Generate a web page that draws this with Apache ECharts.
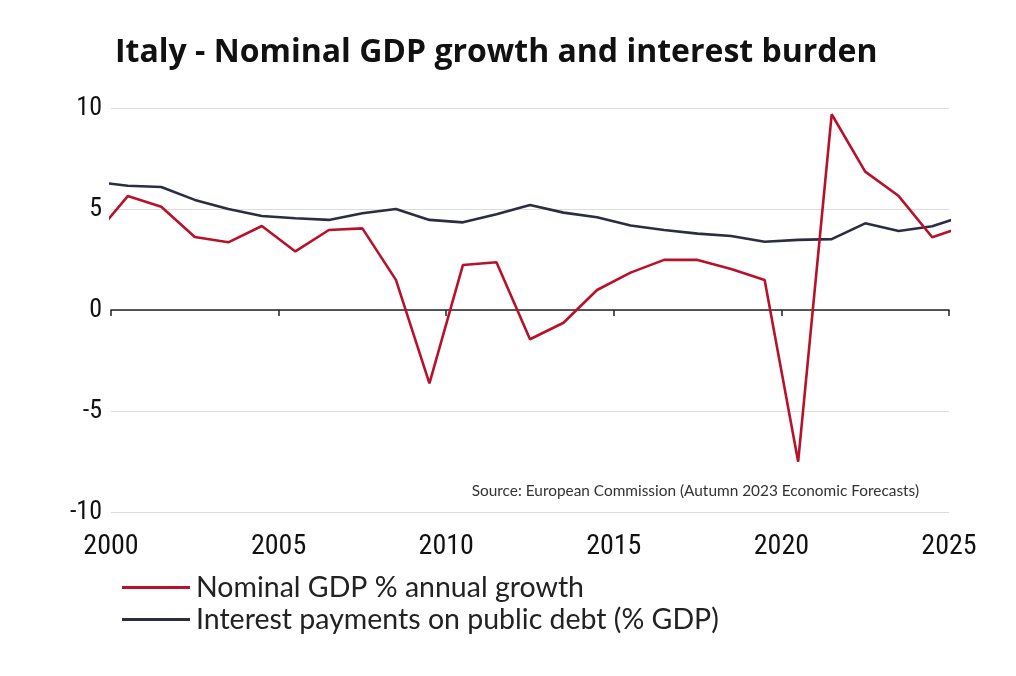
<!DOCTYPE html>
<html>
<head>
<meta charset="utf-8">
<script src="https://cdn.jsdelivr.net/npm/echarts@6/dist/echarts.min.js"></script>
<style>
html,body{margin:0;padding:0;background:#fff;}
#c{width:1016px;height:676px;}
</style>
</head>
<body>
<div id="c"></div>
<script>
// Annual values, plotted at mid-year (year + 0.5); axis shows 2000-2025
const years = [1999,2000,2001,2002,2003,2004,2005,2006,2007,2008,2009,2010,2011,2012,2013,2014,2015,2016,2017,2018,2019,2020,2021,2022,2023,2024,2025];
const gdpGrowth = [3.66,5.64,5.11,3.61,3.35,4.16,2.90,3.96,4.04,1.49,-3.63,2.23,2.36,-1.45,-0.63,0.99,1.85,2.48,2.48,2.03,1.49,-7.51,9.69,6.85,5.64,3.60,4.16];
const interest = [6.35,6.15,6.09,5.45,5.00,4.65,4.54,4.46,4.79,5.00,4.46,4.34,4.74,5.20,4.82,4.59,4.18,3.96,3.78,3.66,3.38,3.47,3.51,4.29,3.91,4.15,4.69];
const xTicks = [2000,2005,2010,2015,2020,2025];
const yTicks = [-10,-5,0,5,10];
const seriesNames = ['Nominal GDP % annual growth','Interest payments on public debt (% GDP)'];
const titleText = 'Italy - Nominal GDP growth and interest burden';
const sourceText = 'Source: European Commission (Autumn 2023 Economic Forecasts)';

const toPts = vals => years.map((y,i)=>[y+0.5, vals[i]]);
const labelFont = '"Liberation Sans Narrow","Roboto Condensed","Noto Sans",sans-serif';
const textFont = 'Lato,"Noto Sans",sans-serif';

const chart = echarts.init(document.getElementById('c'));
chart.setOption({
  animation:false,
  title:{
    text:titleText,
    left:110, top:32,
    textStyle:{fontFamily:'"Open Sans",sans-serif',fontWeight:'bold',fontSize:32,color:'#111'}
  },
  graphic:[{
    type:'text', right:97, top:484,
    style:{text:sourceText, fontFamily:textFont, fontSize:15.4, fill:'#333'}
  }],
  legend:{
    orient:'vertical', left:117, top:568, itemGap:3,
    itemWidth:68, itemHeight:3, icon:'rect',
    textStyle:{fontFamily:textFont, fontSize:28.5, color:'#222', padding:[0,0,0,1]},
    data:seriesNames
  },
  grid:{left:111, right:67, top:108, bottom:164},
  xAxis:[{
    type:'value', min:xTicks[0], max:xTicks[xTicks.length-1], interval:5,
    axisLine:{show:true, onZero:true, lineStyle:{color:'#222',width:1.5}},
    axisTick:{show:true, length:6, lineStyle:{color:'#222',width:1.5}},
    axisLabel:{show:false}, splitLine:{show:false}
  },{
    type:'value', min:xTicks[0], max:xTicks[xTicks.length-1], interval:5, position:'bottom',
    axisLine:{show:false, onZero:false}, axisTick:{show:false}, splitLine:{show:false},
    axisLabel:{show:true, margin:21, fontFamily:labelFont, fontSize:28, color:'#111', formatter:v=>String(v)}
  }],
  yAxis:{
    type:'value', min:yTicks[0], max:yTicks[yTicks.length-1], interval:5,
    axisLine:{show:false}, axisTick:{show:false},
    axisLabel:{margin:9, fontFamily:labelFont, fontSize:26, color:'#111', padding:[4,0,0,0]},
    splitLine:{lineStyle:{color:'#dcdcdc',width:1}}
  },
  series:[{
    name:seriesNames[0], type:'line', xAxisIndex:0, data:toPts(gdpGrowth),
    symbol:'none', clip:true, lineStyle:{color:'#b8122a',width:2.6}, itemStyle:{color:'#b8122a'}, z:3
  },{
    name:seriesNames[1], type:'line', xAxisIndex:0, data:toPts(interest),
    symbol:'none', clip:true, lineStyle:{color:'#2b2d42',width:2.6}, itemStyle:{color:'#2b2d42'}, z:2
  }]
});
</script>
</body>
</html>
